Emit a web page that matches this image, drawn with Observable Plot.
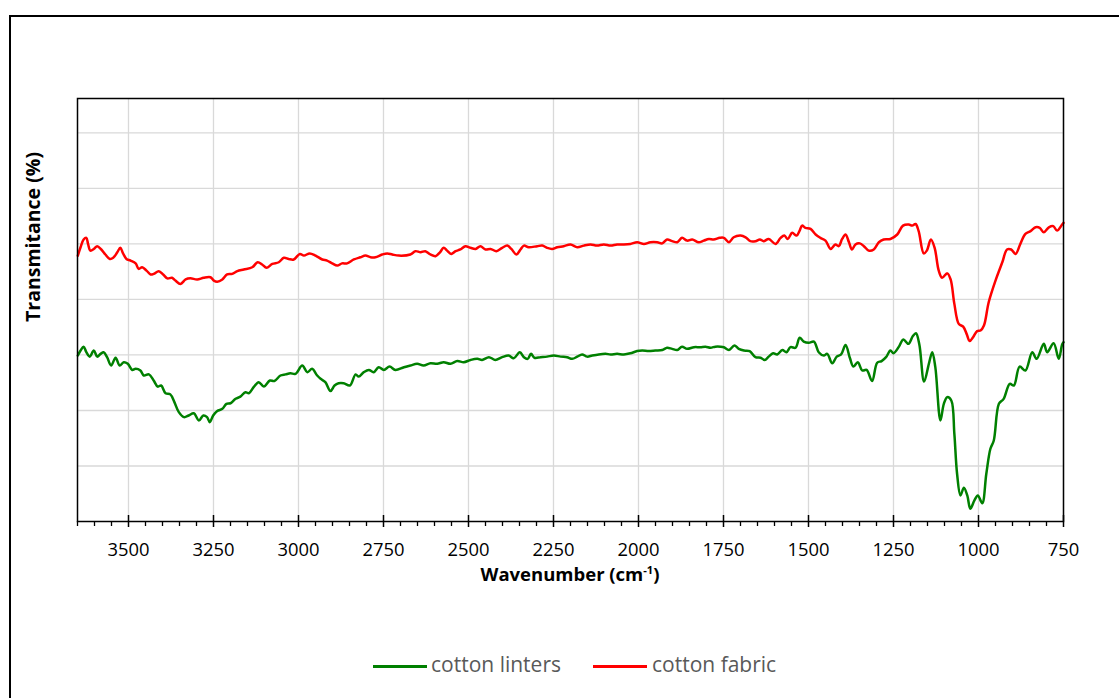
<!DOCTYPE html>
<html>
<head>
<meta charset="utf-8">
<script src="https://cdn.jsdelivr.net/npm/d3@7"></script>
<script src="https://cdn.jsdelivr.net/npm/@observablehq/plot@0.6"></script>
<style>
  html, body { margin: 0; padding: 0; background: #fff; overflow: hidden; }
  #page { position: relative; width: 1119px; height: 698px; overflow: hidden; font-family: "Open Sans", sans-serif; }
  #chart { position: absolute; left: 0; top: 0; }
  #border { position: absolute; left: 9px; top: 15px; width: 1200px; height: 800px; border: 2px solid #000; pointer-events: none; }
  .ytitle { position: absolute; left: 33px; top: 237px; transform: translate(-50%, -50%) rotate(-90deg);
            font-weight: 700; font-size: 19.5px; line-height: 1; white-space: nowrap; color: #000; }
  .xtitle { position: absolute; left: 570px; top: 565px; transform: translateX(-50%);
            font-weight: 700; font-size: 18.5px; line-height: 1; white-space: nowrap; color: #000; }
  .xtitle sup { font-size: 0.6em; vertical-align: 0.6em; line-height: 0; }
  .swatch { position: absolute; height: 3px; }
  .ltext { position: absolute; top: 654px; font-size: 21px; line-height: 1; color: #595959; white-space: nowrap; }
</style>
</head>
<body>
<div id="page">
  <div id="chart"></div>
  <div class="ytitle">Transmitance (%)</div>
  <div class="xtitle">Wavenumber (cm<sup>-1</sup>)</div>
  <div id="legend"></div>
  <div id="border"></div>
</div>
<script>
// FTIR spectra: [wavenumber (cm-1), transmittance (%)]
const cottonLinters = [
  [3649,29.9],[3641,30.8],[3632,31.5],[3624,30.5],[3614,29.7],[3602,30.8],[3592,29.7],[3582,30.2],[3573,30.5],[3563,29.6],
  [3551,28.1],[3538,29.5],[3526,28.1],[3514,28.7],[3502,28.4],[3489,27.3],[3479,27.5],[3465,27.2],[3455,26.3],[3440,26.5],
  [3426,25.4],[3414,24.3],[3404,24.5],[3391,23.1],[3377,22.9],[3365,21.5],[3352,19.7],[3337,18.8],[3323,19.1],[3308,19.5],
  [3293,18.2],[3280,19.1],[3269,18.8],[3261,17.9],[3251,19.1],[3239,19.9],[3224,20.3],[3212,21.2],[3200,21.3],[3185,22.1],
  [3171,22.5],[3156,23.3],[3146,23.1],[3132,24.2],[3117,25.1],[3102,24.3],[3084,25.4],[3071,25.3],[3053,26.3],[3038,26.5],
  [3024,26.7],[3009,26.6],[2989,28.1],[2974,26.9],[2960,27.5],[2945,26.3],[2935,25.7],[2921,25.1],[2906,23.5],[2894,24.5],
  [2882,24.9],[2867,24.9],[2849,24.5],[2832,26.5],[2823,26.1],[2808,26.9],[2793,27.3],[2779,26.9],[2764,27.8],[2749,27.3],
  [2732,27.9],[2715,27.3],[2690,27.8],[2671,28.1],[2651,28.4],[2632,28.1],[2612,28.5],[2592,28.4],[2573,28.7],[2553,28.4],
  [2533,28.9],[2514,28.7],[2494,29.1],[2474,29.3],[2460,29.1],[2440,29.6],[2421,29.1],[2401,29.6],[2382,29.9],[2367,29.4],
  [2349,30.5],[2337,29.6],[2326,29.3],[2316,30.2],[2306,29.5],[2288,29.6],[2269,29.7],[2249,29.9],[2229,29.7],[2210,29.6],
  [2195,29.3],[2180,29.7],[2166,30.1],[2151,29.7],[2136,29.9],[2117,30.1],[2097,30.2],[2082,30.1],[2063,30.2],[2043,30.1],
  [2024,30.3],[2004,30.7],[1989,30.8],[1970,30.7],[1950,30.8],[1930,30.9],[1916,31.3],[1901,31.1],[1886,30.9],[1872,31.5],
  [1857,31.1],[1837,31.4],[1818,31.4],[1803,31.5],[1788,31.3],[1774,31.5],[1759,31.5],[1749,31.4],[1734,30.9],[1718,31.7],
  [1705,31.1],[1690,30.8],[1673,30.7],[1656,29.6],[1641,29.5],[1629,29.1],[1617,29.7],[1604,30.3],[1592,30.1],[1577,30.9],
  [1565,30.5],[1553,31.4],[1538,31.3],[1526,33.1],[1514,32.4],[1499,32.2],[1484,32.4],[1470,30.5],[1455,29.9],[1445,30.2],
  [1430,28.5],[1417,29.7],[1404,30.1],[1391,31.8],[1378,29.4],[1368,27.9],[1355,28.7],[1342,27.2],[1329,27.3],[1313,25.3],
  [1298,28.6],[1285,28.9],[1272,29.6],[1259,30.8],[1250,30.3],[1234,31.5],[1221,32.8],[1206,32.0],[1193,33.4],[1184,33.9],
  [1174,31.9],[1160,25.2],[1146,28.4],[1136,30.5],[1127,27.8],[1112,18.2],[1102,21.2],[1092,22.4],[1080,21.8],[1071,15.8],
  [1063,8.6],[1053,4.7],[1043,6.1],[1033,4.7],[1024,2.3],[1012,3.8],[1002,4.7],[989,3.3],[977,8.6],[965,13.1],
  [955,14.6],[940,21.2],[926,22.1],[908,24.8],[896,24.5],[879,27.9],[862,27.2],[842,30.5],[829,29.3],[808,32.0],
  [798,30.5],[779,32.1],[764,29.3],[754,31.9],[750,32.3]
];

const cottonFabric = [
  [3649,47.9],[3641,49.4],[3632,50.8],[3624,51.1],[3619,50.0],[3612,48.8],[3602,49.1],[3592,49.6],[3580,49.0],[3568,48.1],
  [3555,47.3],[3545,47.5],[3533,48.5],[3524,49.3],[3516,48.3],[3506,47.3],[3494,47.0],[3479,46.5],[3470,45.5],[3460,45.8],
  [3447,45.2],[3435,44.5],[3426,44.6],[3411,45.1],[3398,44.5],[3386,43.8],[3372,43.9],[3362,43.4],[3347,42.8],[3332,43.6],
  [3318,43.8],[3298,43.6],[3279,43.9],[3259,44.0],[3249,43.4],[3239,43.2],[3224,43.6],[3210,44.5],[3195,44.6],[3180,45.1],
  [3161,45.4],[3136,45.8],[3120,46.7],[3107,46.3],[3094,45.7],[3077,46.4],[3058,46.7],[3043,47.5],[3029,47.3],[3014,47.2],
  [2996,48.2],[2984,47.9],[2967,48.3],[2950,47.9],[2930,47.2],[2916,47.0],[2901,46.5],[2886,46.1],[2872,46.5],[2857,46.5],
  [2837,47.2],[2818,47.6],[2803,47.9],[2788,47.6],[2774,47.6],[2754,48.1],[2739,48.3],[2724,48.1],[2705,47.9],[2671,48.1],
  [2656,48.7],[2641,48.5],[2627,48.7],[2612,48.1],[2597,47.8],[2584,48.5],[2573,49.3],[2563,48.8],[2551,48.2],[2538,48.7],
  [2524,49.0],[2509,49.6],[2494,49.3],[2479,49.1],[2465,49.6],[2450,49.0],[2435,49.1],[2418,48.7],[2401,49.3],[2386,49.7],
  [2374,49.1],[2359,48.1],[2347,49.0],[2337,49.7],[2323,49.4],[2298,49.6],[2283,49.7],[2269,49.3],[2254,49.1],[2239,49.4],
  [2220,49.6],[2200,49.9],[2180,49.4],[2161,49.7],[2141,49.9],[2122,49.7],[2102,49.9],[2082,49.7],[2063,49.9],[2043,49.9],
  [2024,50.0],[2004,50.3],[1984,50.0],[1965,50.3],[1945,50.3],[1930,50.1],[1916,50.8],[1901,50.5],[1886,50.3],[1872,51.1],
  [1857,50.6],[1842,50.8],[1823,50.3],[1808,50.6],[1793,50.9],[1779,50.8],[1761,51.1],[1749,51.1],[1734,50.3],[1720,51.2],
  [1700,51.5],[1685,51.2],[1671,50.5],[1656,50.5],[1643,50.8],[1632,50.5],[1617,50.9],[1597,50.0],[1582,51.1],[1571,51.5],
  [1561,50.9],[1548,52.0],[1535,51.5],[1526,52.4],[1519,53.3],[1509,52.9],[1494,52.7],[1479,51.7],[1465,51.1],[1450,50.6],
  [1435,49.1],[1421,49.9],[1411,49.6],[1401,50.9],[1391,51.7],[1381,50.3],[1372,49.0],[1362,49.9],[1349,50.1],[1337,49.6],
  [1323,48.8],[1308,49.0],[1293,50.3],[1279,50.8],[1259,50.9],[1239,51.7],[1222,53.3],[1205,53.5],[1195,53.3],[1185,53.6],
  [1176,52.3],[1161,48.3],[1152,48.8],[1140,50.8],[1129,49.3],[1117,45.2],[1107,43.9],[1092,44.7],[1082,43.6],[1071,39.2],
  [1058,35.6],[1045,35.1],[1035,33.8],[1026,32.5],[1016,33.2],[1004,34.3],[994,34.4],[984,35.3],[970,39.5],[950,43.4],
  [930,46.7],[916,49.0],[904,49.0],[891,48.2],[877,50.0],[862,51.8],[847,52.3],[832,53.0],[820,52.9],[808,52.1],
  [793,53.0],[780,53.2],[769,52.4],[754,53.5],[750,53.8]
];

const seriesNames = ["cotton linters", "cotton fabric"];
const seriesColors = ["#008000", "#ff0000"];
const wavenumberTicks = [3500, 3250, 3000, 2750, 2500, 2250, 2000, 1750, 1500, 1250, 1000, 750];
const wavenumberMinor = d3.range(750, 3651, 50).filter(v => v % 250 !== 0);
const transmittanceGrid = [10, 20, 30, 40, 50, 60, 70];
const wavenumberDomain = [3650, 750];
const transmittanceDomain = [0, 76.2];

const rows = [
  ...cottonLinters.map(([wn, t]) => ({series: seriesNames[0], wn, t})),
  ...cottonFabric.map(([wn, t]) => ({series: seriesNames[1], wn, t}))
];

const chart = Plot.plot({
  width: 1119,
  height: 698,
  marginLeft: 77,
  marginRight: 56,
  marginTop: 98,
  marginBottom: 177,
  style: {fontFamily: "Open Sans, sans-serif", fontSize: "18.4px", color: "#000", background: "transparent", overflow: "visible"},
  x: {domain: wavenumberDomain, label: null},
  y: {domain: transmittanceDomain, axis: null},
  color: {domain: seriesNames, range: seriesColors},
  marks: [
    Plot.gridX(wavenumberTicks, {stroke: "#d9d9d9", strokeOpacity: 1, strokeWidth: 1.3}),
    Plot.gridY(transmittanceGrid, {stroke: "#d9d9d9", strokeOpacity: 1, strokeWidth: 1.3}),
    Plot.line(rows, {x: "wn", y: "t", z: "series", stroke: "series", strokeWidth: 2.5, curve: "catmull-rom"}),
    Plot.frame({stroke: "#000", strokeWidth: 1.5}),
    Plot.axisX(wavenumberTicks, {tickSize: 12, dy: -6, fill: "none", stroke: "#000", strokeWidth: 1.5, label: null}),
    Plot.axisX(wavenumberMinor, {tickSize: 5, fill: "none", stroke: "#000", strokeWidth: 1.3, label: null}),
    Plot.axisX(wavenumberTicks, {tickSize: 0, tickPadding: 21, fill: "#000", fontSize: 18.4, tickFormat: d3.format("d"), label: null})
  ]
});
document.getElementById("chart").append(chart);

// Legend below the plot
const legend = document.getElementById("legend");
const legendItems = [
  {name: seriesNames[0], color: seriesColors[0], swatchLeft: 373, textLeft: 431},
  {name: seriesNames[1], color: seriesColors[1], swatchLeft: 593, textLeft: 652}
];
for (const item of legendItems) {
  const sw = document.createElement("div");
  sw.className = "swatch";
  sw.style.left = item.swatchLeft + "px";
  sw.style.top = "664.5px";
  sw.style.width = "54px";
  sw.style.background = item.color;
  legend.append(sw);
  const tx = document.createElement("div");
  tx.className = "ltext";
  tx.style.left = item.textLeft + "px";
  tx.textContent = item.name;
  legend.append(tx);
}
</script>
</body>
</html>
